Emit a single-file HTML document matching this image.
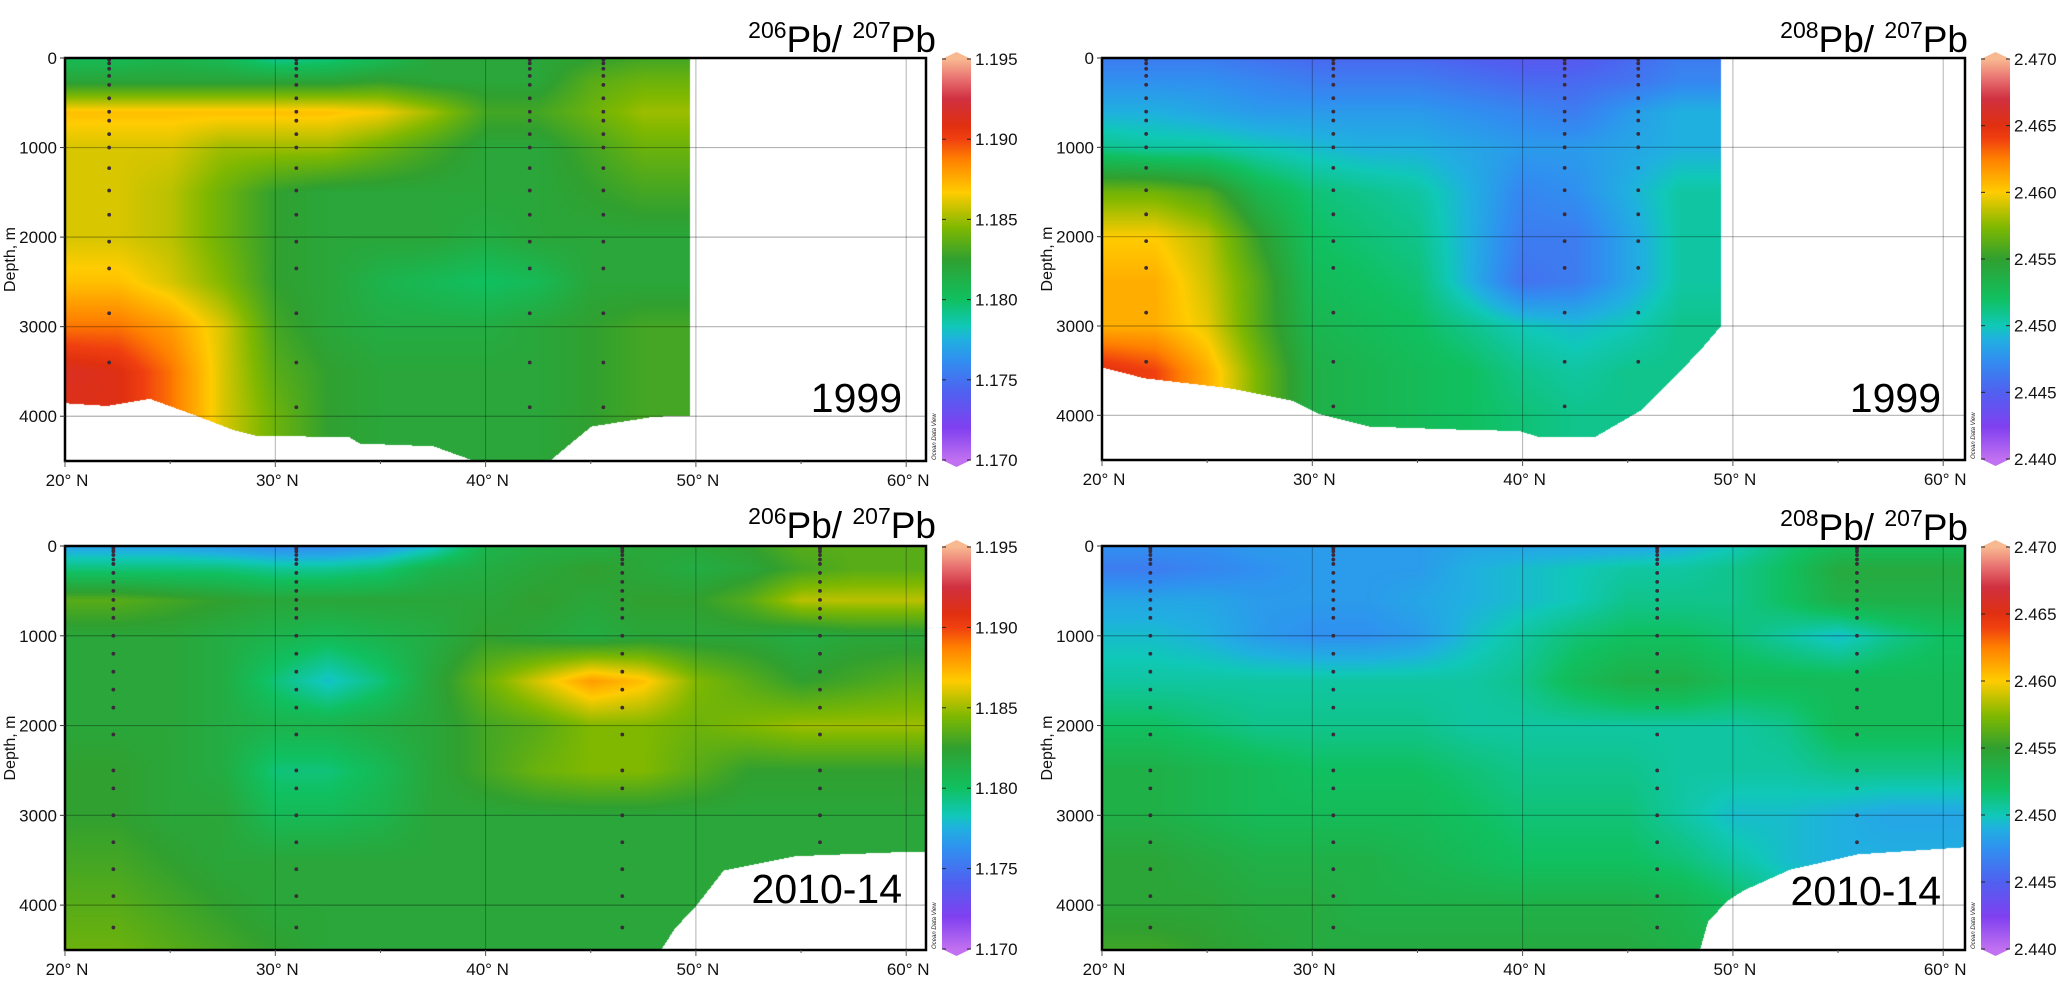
<!DOCTYPE html>
<html><head><meta charset="utf-8">
<style>
html,body{margin:0;padding:0;background:#fff;}
#wrap{position:relative;width:2067px;height:986px;overflow:hidden;background:#fff;}
#cv{position:absolute;left:0;top:0;}
#ov{position:absolute;left:0;top:0;}
text{font-family:"Liberation Sans",Arial,sans-serif;}
</style></head>
<body>
<div id="wrap">
<canvas id="cv" width="2067" height="986"></canvas>
<svg id="ov" width="2067" height="986" xmlns="http://www.w3.org/2000/svg"></svg>
</div>
<script>
// ---------- data ----------
const depths = [0,250,600,1000,1500,2000,2500,3000,3500,4000,4500];
const lats1999 = [20,22.5,25,27.5,30,32.5,35,37.5,40,42.5,45,47.5,50];
const latsNew = [20,22.5,25,27.5,30,32.5,35,37.5,40,42.5,45,47.5,50,52.5,55,57.5,60,62.5];

const valsA = [
[1.1805,1.1805,1.181,1.1805,1.179,1.1795,1.1805,1.182,1.182,1.182,1.1825,1.183,1.183],
[1.182,1.182,1.182,1.182,1.182,1.182,1.1825,1.182,1.182,1.182,1.1835,1.184,1.184],
[1.187,1.187,1.187,1.187,1.187,1.187,1.1865,1.185,1.183,1.183,1.184,1.185,1.185],
[1.186,1.186,1.186,1.185,1.185,1.185,1.184,1.183,1.182,1.182,1.183,1.184,1.184],
[1.186,1.186,1.1855,1.184,1.1825,1.182,1.182,1.182,1.182,1.182,1.1825,1.183,1.183],
[1.186,1.186,1.1855,1.184,1.1825,1.182,1.182,1.182,1.1815,1.182,1.182,1.182,1.182],
[1.187,1.187,1.186,1.1845,1.1825,1.182,1.181,1.1805,1.180,1.1805,1.182,1.182,1.182],
[1.189,1.189,1.188,1.186,1.183,1.182,1.1815,1.1815,1.1815,1.182,1.1825,1.183,1.183],
[1.1915,1.191,1.189,1.186,1.1835,1.1825,1.182,1.182,1.182,1.182,1.1825,1.183,1.183],
[1.191,1.191,1.189,1.186,1.184,1.1825,1.182,1.182,1.182,1.182,1.1825,1.183,1.183],
[1.191,1.191,1.189,1.186,1.184,1.1825,1.182,1.182,1.182,1.182,1.1825,1.183,1.183]
];
const valsB = [
[2.4465,2.4465,2.4465,2.446,2.4455,2.4455,2.4455,2.445,2.4445,2.4445,2.4455,2.4465,2.4465],
[2.4475,2.4475,2.4475,2.447,2.4465,2.4465,2.4465,2.446,2.4455,2.4455,2.446,2.447,2.447],
[2.449,2.449,2.4485,2.448,2.448,2.448,2.448,2.4475,2.447,2.4465,2.448,2.449,2.449],
[2.451,2.4505,2.4505,2.450,2.4495,2.449,2.449,2.4485,2.448,2.448,2.4485,2.449,2.449],
[2.457,2.457,2.456,2.453,2.4515,2.451,2.4505,2.449,2.447,2.4475,2.449,2.4505,2.4505],
[2.460,2.460,2.4585,2.455,2.452,2.4515,2.451,2.449,2.4465,2.4465,2.4485,2.4505,2.4505],
[2.461,2.461,2.459,2.456,2.4525,2.452,2.4515,2.449,2.446,2.4465,2.4485,2.4505,2.4505],
[2.461,2.461,2.4595,2.456,2.453,2.4525,2.452,2.451,2.450,2.4495,2.450,2.451,2.451],
[2.465,2.464,2.461,2.457,2.4535,2.453,2.4525,2.452,2.451,2.4505,2.451,2.451,2.451],
[2.465,2.464,2.461,2.457,2.4535,2.453,2.4525,2.452,2.4515,2.451,2.451,2.451,2.451],
[2.465,2.464,2.461,2.457,2.4535,2.453,2.4525,2.452,2.4515,2.451,2.451,2.451,2.451]
];
const valsC = [
[1.177,1.177,1.177,1.1765,1.176,1.176,1.1765,1.178,1.181,1.1815,1.1815,1.182,1.182,1.1825,1.1835,1.1835,1.1835,1.1835],
[1.1795,1.1795,1.1795,1.1795,1.179,1.179,1.1795,1.181,1.1815,1.182,1.1825,1.182,1.1815,1.182,1.183,1.1835,1.1835,1.1835],
[1.1835,1.1835,1.183,1.1825,1.182,1.182,1.182,1.182,1.182,1.1825,1.182,1.1825,1.1825,1.1835,1.1855,1.1855,1.1855,1.1855],
[1.182,1.182,1.182,1.1815,1.181,1.1805,1.181,1.1815,1.1825,1.182,1.1815,1.182,1.182,1.182,1.1815,1.182,1.182,1.182],
[1.182,1.182,1.182,1.1815,1.1795,1.178,1.1795,1.182,1.184,1.186,1.188,1.187,1.1845,1.1835,1.1825,1.183,1.1835,1.1835],
[1.182,1.182,1.182,1.1815,1.181,1.181,1.1815,1.182,1.183,1.1835,1.1845,1.1845,1.184,1.1845,1.185,1.185,1.185,1.185],
[1.1825,1.1825,1.182,1.1815,1.1795,1.1795,1.1805,1.182,1.183,1.184,1.1845,1.1845,1.1835,1.1825,1.1825,1.1825,1.1825,1.1825],
[1.1825,1.1825,1.182,1.182,1.1805,1.1805,1.181,1.182,1.182,1.182,1.182,1.182,1.182,1.182,1.182,1.182,1.182,1.182],
[1.183,1.183,1.1825,1.182,1.182,1.182,1.182,1.182,1.182,1.182,1.182,1.182,1.182,1.182,1.182,1.182,1.182,1.182],
[1.1835,1.1835,1.183,1.1825,1.182,1.182,1.182,1.182,1.182,1.182,1.182,1.182,1.182,1.182,1.182,1.182,1.182,1.182],
[1.184,1.184,1.1835,1.183,1.1825,1.182,1.182,1.182,1.182,1.182,1.182,1.182,1.182,1.182,1.182,1.182,1.182,1.182]
];
const valsD = [
[2.4475,2.4475,2.4475,2.448,2.448,2.448,2.448,2.4485,2.4485,2.4485,2.4485,2.449,2.450,2.4515,2.4525,2.4525,2.4525,2.4525],
[2.4465,2.4465,2.447,2.4475,2.448,2.448,2.448,2.449,2.4495,2.450,2.4505,2.4505,2.451,2.452,2.454,2.454,2.454,2.454],
[2.4485,2.4485,2.4485,2.448,2.448,2.448,2.4485,2.449,2.4495,2.450,2.451,2.451,2.451,2.452,2.4535,2.4535,2.4535,2.4535],
[2.4495,2.4495,2.449,2.448,2.4475,2.4475,2.448,2.4495,2.4505,2.4515,2.452,2.452,2.4515,2.4505,2.4495,2.451,2.452,2.452],
[2.4505,2.4505,2.4505,2.4505,2.4505,2.4505,2.4505,2.4505,2.451,2.4525,2.4535,2.4535,2.4525,2.4525,2.4525,2.4525,2.4525,2.4525],
[2.452,2.452,2.4515,2.451,2.451,2.451,2.451,2.4505,2.4505,2.4505,2.4505,2.4505,2.4505,2.451,2.4525,2.4525,2.4525,2.4525],
[2.4535,2.4535,2.453,2.4525,2.452,2.452,2.452,2.4515,2.451,2.451,2.451,2.4505,2.4505,2.4505,2.451,2.451,2.451,2.451],
[2.4535,2.4535,2.453,2.4525,2.4525,2.4525,2.4525,2.452,2.4515,2.4515,2.4515,2.4505,2.4495,2.4495,2.449,2.4485,2.4485,2.4485],
[2.4545,2.4545,2.454,2.4535,2.4535,2.4535,2.453,2.4525,2.452,2.452,2.452,2.4515,2.4505,2.4495,2.449,2.449,2.449,2.449],
[2.4545,2.4545,2.4545,2.454,2.454,2.4535,2.4535,2.4535,2.4535,2.4535,2.4535,2.453,2.452,2.451,2.450,2.450,2.450,2.450],
[2.4555,2.4555,2.455,2.4545,2.454,2.454,2.454,2.454,2.454,2.454,2.454,2.4535,2.453,2.452,2.451,2.451,2.451,2.451]
];
// bathymetry (bottom depth, m) by latitude
const bathyLatA = [20,22,24,26,28,29,33.5,34,37.5,39.5,43,45,48,49.7];
const bathyDepA = [3850,3880,3800,3970,4150,4210,4230,4300,4330,4500,4500,4110,4000,3990];
const bathyLatB = [20,22,26,29,30.3,32.7,36.3,39.8,40.8,43.4,45.6,48.3,49.4];
const bathyDepB = [3460,3580,3690,3830,3980,4120,4150,4170,4240,4240,3940,3300,3000];
const bathyLatC = [20,40,48.3,49,50,51.3,54.7,60.2,62.5];
const bathyDepC = [4600,4600,4500,4250,4000,3610,3450,3400,3400];
const bathyLatD = [20,40,48.4,48.8,49.7,50.5,52.7,55.9,61,62.5];
const bathyDepD = [4600,4600,4500,4180,3950,3830,3600,3430,3350,3350];
const extentA = 49.7, extentB = 49.4, extentC = 62.5, extentD = 62.5;
// stations
const stationsA = [22.1,31.0,42.1,45.6];
const stationsB = [22.1,31.0,42.0,45.5];
const stationsC = [22.3,31.0,46.5,55.9];
const stationsD = [22.3,31.0,46.4,55.9];
const sampleDepths1999 = [20,60,120,200,300,450,600,700,850,1000,1230,1480,1750,2050,2350,2850,3400,3900];
const sampleDepthsNew = [10,30,60,100,150,200,300,400,500,600,700,800,1000,1200,1400,1600,1800,2100,2500,2700,3000,3300,3600,3900,4250];
// ticks
const latTicks = [20,30,40,50,60];
const depthTicks = [0,1000,2000,3000,4000];
const cbTicks206 = ["1.195","1.190","1.185","1.180","1.175","1.170"];
const cbTicks208 = ["2.470","2.465","2.460","2.455","2.450","2.445","2.440"];
const range206 = [1.170,1.195];
const range208 = [2.440,2.470];

// ---------- colormap ----------
const cmapStops = [
[0,192,112,240],[0.08,128,64,240],[0.167,80,96,240],[0.25,48,144,240],[0.30,32,176,224],
[0.333,16,200,184],[0.40,16,192,96],[0.5,48,160,48],[0.58,128,184,0],[0.667,255,204,0],
[0.75,255,128,0],[0.8,240,64,16],[0.833,224,48,16],[0.9,208,48,64],[0.95,232,112,112],[1,248,184,144]];
function cmap(f){f=Math.max(0,Math.min(1,f));
 for(let i=1;i<cmapStops.length;i++){const a=cmapStops[i-1],b=cmapStops[i];
  if(f<=b[0]){const t=(f-a[0])/(b[0]-a[0]);return [a[1]+(b[1]-a[1])*t,a[2]+(b[2]-a[2])*t,a[3]+(b[3]-a[3])*t];}}
 const l=cmapStops[cmapStops.length-1];return [l[1],l[2],l[3]];}
function interp1(xs,ys,x){if(x<=xs[0])return ys[0];for(let i=1;i<xs.length;i++){if(x<=xs[i]){const t=(x-xs[i-1])/(xs[i]-xs[i-1]);return ys[i-1]+(ys[i]-ys[i-1])*t;}}return ys[ys.length-1];}
function idx(xs,x){let i=0;while(i<xs.length-2&&x>xs[i+1])i++;let t=(x-xs[i])/(xs[i+1]-xs[i]);t=Math.max(0,Math.min(1,t));return [i,t];}
function bilin(lats,vals,lat,d){const [i,s]=idx(lats,lat);const [j,u]=idx(depths,d);
 const a=vals[j][i],b=vals[j][i+1],c=vals[j+1][i],e=vals[j+1][i+1];
 return (a*(1-s)+b*s)*(1-u)+(c*(1-s)+e*s)*u;}

// ---------- panels ----------
const panels = [
 {id:'a',x0:65,x1:926,y0:58,y1:461,lats:lats1999,vals:valsA,bl:bathyLatA,bd:bathyDepA,ext:extentA,st:stationsA,sd:sampleDepths1999,rng:range206,ticks:cbTicks206,iso:'206',year:'1999',cbx:942,ty:52},
 {id:'b',x0:1102,x1:1965,y0:58,y1:460,lats:lats1999,vals:valsB,bl:bathyLatB,bd:bathyDepB,ext:extentB,st:stationsB,sd:sampleDepths1999,rng:range208,ticks:cbTicks208,iso:'208',year:'1999',cbx:1981,ty:52},
 {id:'c',x0:65,x1:926,y0:546,y1:950,lats:latsNew,vals:valsC,bl:bathyLatC,bd:bathyDepC,ext:extentC,st:stationsC,sd:sampleDepthsNew,rng:range206,ticks:cbTicks206,iso:'206',year:'2010-14',cbx:942,ty:538},
 {id:'d',x0:1102,x1:1965,y0:546,y1:950,lats:latsNew,vals:valsD,bl:bathyLatD,bd:bathyDepD,ext:extentD,st:stationsD,sd:sampleDepthsNew,rng:range208,ticks:cbTicks208,iso:'208',year:'2010-14',cbx:1981,ty:540}
];
const PPD = 21.03;
const cv=document.getElementById('cv'),ctx=cv.getContext('2d');
const img=ctx.createImageData(2067,986);const D=img.data;
for(let k=0;k<D.length;k+=4){D[k]=D[k+1]=D[k+2]=D[k+3]=255;}
panels.forEach(p=>{
 const H=p.y1-p.y0;
 for(let py=p.y0;py<p.y1;py++){const d=(py-p.y0)/H*4500;
  for(let px=p.x0;px<p.x1;px++){const lat=20+(px-p.x0)/PPD;
   if(lat>p.ext)continue; if(d>interp1(p.bl,p.bd,lat))continue;
   const v=bilin(p.lats,p.vals,lat,d);const c=cmap((v-p.rng[0])/(p.rng[1]-p.rng[0]));
   const k=(py*2067+px)*4;D[k]=c[0];D[k+1]=c[1];D[k+2]=c[2];}}
});
ctx.putImageData(img,0,0);

// ---------- svg overlay ----------
const NS='http://www.w3.org/2000/svg';const svg=document.getElementById('ov');
function el(tag,attrs,parent){const e=document.createElementNS(NS,tag);for(const k in attrs)e.setAttribute(k,attrs[k]);(parent||svg).appendChild(e);return e;}
const defs=el('defs',{});
const grad=el('linearGradient',{id:'cbgrad',x1:0,y1:1,x2:0,y2:0},defs);
cmapStops.forEach(s=>{el('stop',{offset:s[0],'stop-color':`rgb(${s[1]|0},${s[2]|0},${s[3]|0})`},grad);});

panels.forEach(p=>{
 const g=el('g',{});
 
 
 const X=lat=>p.x0+(lat-20)*PPD, Y=d=>p.y0+d/4500*(p.y1-p.y0);
 latTicks.forEach(t=>{const l=el('line',{x1:X(t),x2:X(t),y1:p.y0,y2:p.y1,stroke:'rgba(0,0,0,0.3)','stroke-width':1},g);
  
  });
 depthTicks.forEach(t=>{if(t===0)return;const l=el('line',{x1:p.x0,x2:p.x1,y1:Y(t),y2:Y(t),stroke:'rgba(0,0,0,0.3)','stroke-width':1.2},g);
  
  });
 p.st.forEach((s,si)=>{const bd=interp1(p.bl,p.bd,s);
  p.sd.forEach(dd=>{if(dd>bd-60)return;const c=el('circle',{cx:X(s),cy:Y(dd),r:1.9,fill:'#3a2a3a'},g);
   
   });});
 const fr=el('rect',{x:p.x0,y:p.y0,width:p.x1-p.x0,height:p.y1-p.y0,fill:'none',stroke:'#000','stroke-width':2.5},g);
 
 
 for(let t=20;t<=60;t+=5){el('line',{x1:X(t),x2:X(t),y1:p.y1,y2:p.y1+(t%10?3:6),stroke:'#555','stroke-width':1},g);}
 latTicks.forEach(t=>{const tx=el('text',{x:X(t)+2,y:p.y1+25,'font-size':17,'text-anchor':'middle',fill:'#111'},g);tx.textContent=t+'° N';
  
  });
 depthTicks.forEach(t=>{el('line',{x1:p.x0-5,x2:p.x0,y1:Y(t),y2:Y(t),stroke:'#333','stroke-width':1},g);
  const tx=el('text',{x:p.x0-8,y:Y(t)+6,'font-size':17,'text-anchor':'end',fill:'#111'},g);tx.textContent=t;
  
  });
 const yt=el('text',{x:0,y:0,'font-size':16,'text-anchor':'middle',fill:'#111',transform:`translate(${p.x0-50},${(p.y0+p.y1)/2}) rotate(-90)`},g);
 yt.textContent='Depth, m';
 
 
 const yr=el('text',{x:p.x1-24,y:(p.id<'c'?412:(p.id==='c'?903:905)),'font-size':41,'text-anchor':'end',fill:'#000'},g);
 yr.textContent=p.year;
 
 
 const tt=el('text',{x:(p.x0<500?936:1968),y:p.ty,'font-size':37,'text-anchor':'end',fill:'#000'},g);
 
 
 const parts=[[p.iso,23,-14],['Pb/ ',37,14],['207',23,-14],['Pb',37,14]];
 parts.forEach(q=>{const ts=el('tspan',{'font-size':q[1],dy:q[2]},tt);ts.textContent=q[0];});
 const cb=el('g',{},g);
 
 
 const cx=p.cbx,cw=29,ct=p.y0+1,cbm=p.y1-1;
 el('rect',{x:cx,y:ct,width:cw,height:cbm-ct,fill:'url(#cbgrad)'},cb);
 el('polygon',{points:`${cx},${ct} ${cx+cw/2},${ct-7} ${cx+cw},${ct}`,fill:'rgb(248,184,144)'},cb);
 el('polygon',{points:`${cx},${cbm} ${cx+cw/2},${cbm+7} ${cx+cw},${cbm}`,fill:'rgb(192,112,240)'},cb);
 const n=p.ticks.length;
 p.ticks.forEach((t,i)=>{const ty=ct+(cbm-ct)*i/(n-1);
  el('line',{x1:cx,x2:cx+4,y1:ty,y2:ty,stroke:'#222'},cb);el('line',{x1:cx+cw-4,x2:cx+cw,y1:ty,y2:ty,stroke:'#222'},cb);
  const tx=el('text',{x:cx+cw+4,y:ty+6,'font-size':17,fill:'#111'},cb);tx.textContent=t;
  
  });
 const odv=el('text',{x:0,y:0,'font-size':6,'font-style':'italic',fill:'#222','text-anchor':'start',transform:`translate(${cx-6},${cbm}) rotate(-90)`},cb);
 odv.textContent='Ocean Data View';
 
 
});
</script>
</body></html>
